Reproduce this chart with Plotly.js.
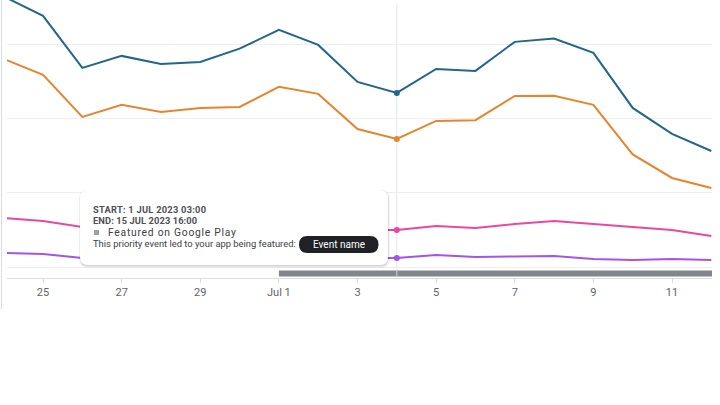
<!DOCTYPE html>
<html>
<head>
<meta charset="utf-8">
<script src="https://cdn.plot.ly/plotly-3.0.1.min.js"></script>
<style>
html,body{margin:0;padding:0;background:#fff;}
#chart{width:720px;height:405px;}
</style>
</head>
<body>
<div id="chart"></div>
<script>
// ---- data ----
const dates = ['2023-06-24','2023-06-25','2023-06-26','2023-06-27','2023-06-28','2023-06-29','2023-06-30',
  '2023-07-01','2023-07-02','2023-07-03','2023-07-04','2023-07-05','2023-07-06','2023-07-07',
  '2023-07-08','2023-07-09','2023-07-10','2023-07-11','2023-07-12'];
const seriesBlue   = [4640,4378,3679,3840,3732,3759,3938,4190,3988,3490,3342,3665,3638,4029,4073,3880,3140,2790,2561];
const seriesOrange = [3800,3584,3019,3181,3086,3140,3154,3423,3329,2857,2723,2965,2975,3302,3305,3181,2515,2198,2063];
const seriesPink   = [1660,1619,1538,1511,1511,1498,1498,1511,1511,1498,1498,1552,1525,1579,1619,1579,1538,1498,1417];
const seriesPurple = [1188,1175,1121,1108,1108,1108,1121,1121,1121,1121,1121,1162,1135,1141,1148,1108,1094,1108,1094];
const tickDates  = ['2023-06-25','2023-06-27','2023-06-29','2023-07-01','2023-07-03','2023-07-05','2023-07-07','2023-07-09','2023-07-11'];
const tickLabels = ['25','27','29','Jul 1','3','5','7','9','11'];
const hoverDate = '2023-07-04';
const eventBarStart = '2023-07-01';
const eventBarEnd = '2023-07-15';
const eventStartText = 'START: 1 JUL 2023 03:00';
const eventEndText = 'END: 15 JUL 2023 16:00';
const eventType = 'Featured on Google Play';
const eventDesc = 'This priority event led to your app being featured:';
const eventName = 'Event name';

// ---- styling ----
const colors = ['#22668c','#e5852e','#e9489e','#a455e6'];
const series = [seriesBlue, seriesOrange, seriesPink, seriesPurple];
const FONT = 'Roboto, Arial, sans-serif';

const L = 7, W = 705, T = 0, H = 278;
const px = x => (x - L) / W;
const py = y => (T + H - y) / H;
function rr(x0, y0, x1, y1, r) {
  const p = (x, y) => px(x).toFixed(5) + ',' + py(y).toFixed(5);
  return 'M' + p(x0 + r, y0) + ' L' + p(x1 - r, y0) + ' Q' + p(x1, y0) + ' ' + p(x1, y0 + r) +
    ' L' + p(x1, y1 - r) + ' Q' + p(x1, y1) + ' ' + p(x1 - r, y1) +
    ' L' + p(x0 + r, y1) + ' Q' + p(x0, y1) + ' ' + p(x0, y1 - r) +
    ' L' + p(x0, y0 + r) + ' Q' + p(x0, y0) + ' ' + p(x0 + r, y0) + ' Z';
}

const hi = dates.indexOf(hoverDate);
const traces = [];
series.forEach((s, i) => {
  traces.push({x: dates, y: s, type: 'scatter', mode: 'lines',
    line: {color: colors[i], width: 2}, hoverinfo: 'skip'});
});
series.forEach((s, i) => {
  traces.push({x: [dates[hi]], y: [s[hi]], type: 'scatter', mode: 'markers',
    marker: {color: colors[i], size: 6, line: {width: 0}}, hoverinfo: 'skip', cliponaxis: false});
});

// tooltip geometry (pixels)
const bx0 = 80, by0 = 190, bx1 = 388, by1 = 265;
const shapes = [
  // hover line (under traces)
  {type: 'line', xref: 'x', yref: 'paper', x0: hoverDate, x1: hoverDate, y0: py(278), y1: py(4),
   line: {color: '#e3e5e8', width: 1}, layer: 'below'},
  // left border of the card
  {type: 'line', xref: 'paper', yref: 'paper', x0: px(1.5), x1: px(1.5), y0: py(0), y1: py(309),
   line: {color: '#dadce0', width: 1}, layer: 'above'},
  // event bar
  {type: 'rect', xref: 'x', yref: 'paper', x0: eventBarStart, x1: eventBarEnd, y0: py(276.5), y1: py(270.5),
   fillcolor: '#80868b', line: {width: 0}, layer: 'above'},
  // hover line crossing the bar
  {type: 'line', xref: 'x', yref: 'paper', x0: hoverDate, x1: hoverDate, y0: py(276.5), y1: py(270.5),
   line: {color: 'rgba(235,236,238,0.8)', width: 1}, layer: 'above'},
  // tooltip shadows
  {type: 'path', xref: 'paper', yref: 'paper', path: rr(bx0 - 1, by0, bx1 + 2, by1 + 3, 9),
   fillcolor: 'rgba(0,0,0,0.04)', line: {width: 0}, layer: 'above'},
  {type: 'path', xref: 'paper', yref: 'paper', path: rr(bx0 - 0.5, by0, bx1 + 1, by1 + 2, 8.5),
   fillcolor: 'rgba(0,0,0,0.06)', line: {width: 0}, layer: 'above'},
  {type: 'path', xref: 'paper', yref: 'paper', path: rr(bx0, by0, bx1 + 0.5, by1 + 1, 8),
   fillcolor: 'rgba(0,0,0,0.08)', line: {width: 0}, layer: 'above'},
  // tooltip box
  {type: 'path', xref: 'paper', yref: 'paper', path: rr(bx0, by0, bx1, by1, 8),
   fillcolor: '#ffffff', line: {width: 0}, layer: 'above'},
  // small grey square
  {type: 'rect', xref: 'paper', yref: 'paper', x0: px(94), x1: px(99), y0: py(235), y1: py(230),
   fillcolor: '#9aa0a6', line: {width: 0}, layer: 'above'},
  // event pill
  {type: 'path', xref: 'paper', yref: 'paper', path: rr(299, 236, 378.5, 253, 8.5),
   fillcolor: '#202124', line: {width: 0}, layer: 'above'}
];

const ann = (x, y, text, opts) => Object.assign({
  xref: 'paper', yref: 'paper', x: px(x), y: py(y), text: text, showarrow: false,
  xanchor: 'left', yanchor: 'middle', font: {family: FONT, size: 9.5, color: '#3c4043'}
}, opts || {});

const annotations = [
  ann(91, 209, '<b><span style="letter-spacing:0.25px">' + eventStartText + '</span></b>', {font: {family: FONT, size: 9.3, color: '#4d5054'}}),
  ann(91, 220.5, '<b><span style="letter-spacing:0.1px">' + eventEndText + '</span></b>', {font: {family: FONT, size: 9.3, color: '#4d5054'}}),
  ann(105.5, 232, '<span style="letter-spacing:0.75px">' + eventType + '</span>', {font: {family: FONT, size: 10.3, color: '#3c4043'}}),
  ann(91, 243.5, eventDesc, {font: {family: FONT, size: 9.4, color: '#3c4043'}}),
  ann(338.7, 244.5, eventName, {xanchor: 'center', font: {family: FONT, size: 10, color: '#ffffff'}})
];

const layout = {
  width: 720, height: 405,
  margin: {l: L, r: 720 - L - W, t: T, b: 405 - T - H, pad: 0},
  paper_bgcolor: '#ffffff', plot_bgcolor: '#ffffff',
  showlegend: false, hovermode: false,
  font: {family: FONT},
  xaxis: {
    type: 'date', range: ['2023-06-24 02:00', '2023-07-12 00:25'],
    tickmode: 'array', tickvals: tickDates, ticktext: tickLabels,
    ticks: 'outside', ticklen: 4, tickcolor: '#dadce0', tickwidth: 1,
    showline: true, linecolor: '#dadce0', linewidth: 1,
    showgrid: false, zeroline: false,
    tickfont: {family: FONT, size: 11, color: '#5f6368'}
  },
  yaxis: {
    range: [852, 4592], tick0: 0, dtick: 1000,
    showticklabels: false, ticks: '', showline: false,
    showgrid: true, gridcolor: '#eeeeee', gridwidth: 1, zeroline: false
  },
  shapes: shapes,
  annotations: annotations
};

Plotly.newPlot('chart', traces, layout, {displayModeBar: false, staticPlot: true});
</script>
</body>
</html>
